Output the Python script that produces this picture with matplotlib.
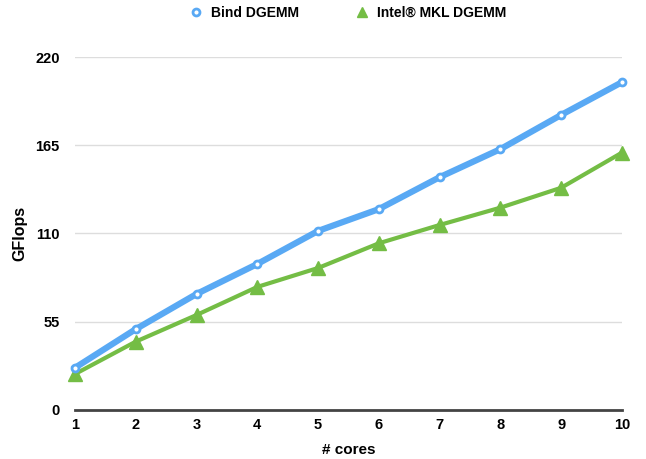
import matplotlib.pyplot as plt
from matplotlib.lines import Line2D

plt.rcParams['font.family'] = ['Liberation Sans', 'DejaVu Sans']
plt.rcParams['font.weight'] = 'bold'

# data
cores = [1, 2, 3, 4, 5, 6, 7, 8, 9, 10]
bind_dgemm = [26.3, 50.4, 72.3, 91.0, 111.6, 125.2, 145.1, 162.6, 183.9, 204.3]
mkl_dgemm = [22.4, 42.6, 59.2, 76.7, 88.5, 103.9, 115.3, 126.1, 138.5, 160.4]
y_ticks = [0, 55, 110, 165, 220]

blue = '#59a9f4'
green = '#74bd45'

fig = plt.figure(figsize=(6.46, 4.59), dpi=100)
ax = fig.add_axes([0.1161, 0.1068, 0.8467, 0.769])

ax.plot(cores, bind_dgemm, color=blue, linewidth=4.5, marker='o', markersize=5,
        markerfacecolor='white', markeredgecolor=blue, markeredgewidth=2,
        clip_on=False, zorder=4)
ax.plot(cores, mkl_dgemm, color=green, linewidth=3, marker='^', markersize=10,
        markerfacecolor=green, markeredgecolor=green, clip_on=False, zorder=3)

ax.set_xlim(1, 10)
ax.set_ylim(0, 220)
ax.set_xticks(cores)
ax.set_yticks(y_ticks)
ax.tick_params(length=0, labelsize=10.5)
ax.tick_params(axis='x', pad=6)
ax.tick_params(axis='y', pad=11)
ax.grid(axis='y', color='#dddddd', linewidth=1)
ax.set_axisbelow(True)
for s in ['top', 'right', 'left']:
    ax.spines[s].set_visible(False)
ax.spines['bottom'].set_color('#444444')
ax.spines['bottom'].set_linewidth(2)

ax.set_xlabel('# cores', fontsize=11, fontweight='bold', labelpad=8)
ax.set_ylabel('GFlops', fontsize=11.5, fontweight='bold', labelpad=6)

handles = [
    Line2D([], [], linestyle='none', marker='o', markersize=5, markerfacecolor='white',
           markeredgecolor=blue, markeredgewidth=2),
    Line2D([], [], linestyle='none', marker='^', markersize=7, markerfacecolor=green,
           markeredgecolor=green),
]
fig.legend(handles, ['Bind DGEMM', 'Intel® MKL DGEMM'], loc='center', ncol=2,
           bbox_to_anchor=(0.538, 0.972), frameon=False, fontsize=10,
           columnspacing=4, handletextpad=0.6, handlelength=1)

fig.savefig('out.png', dpi=100)
